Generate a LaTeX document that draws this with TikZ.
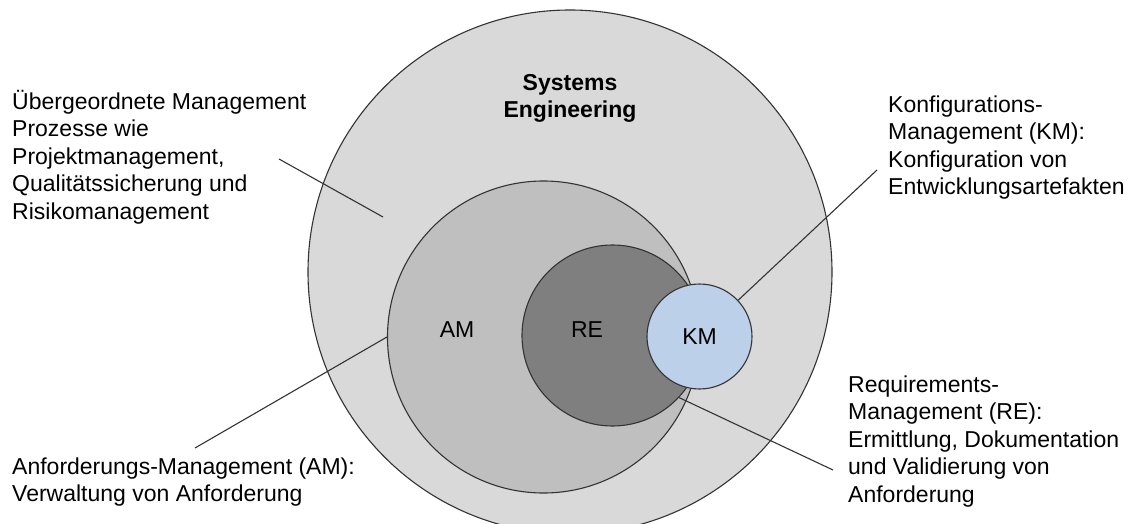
\documentclass[tikz,border=0pt]{standalone}
\usepackage{fontspec}
\setmainfont{Liberation Sans}
\definecolor{outerfill}{HTML}{D9D9D9}
\definecolor{amfill}{HTML}{BFBFBF}
\definecolor{refill}{HTML}{7F7F7F}
\definecolor{kmfill}{HTML}{BDD0E9}
\definecolor{edge}{HTML}{333333}
% fixes the height of the first line of every caption
\newcommand\lblstrut{\rule{0pt}{22pt}}

\begin{document}
\begin{tikzpicture}[x=1pt,y=-1pt,
  area/.style={circle, draw=edge, line width=1.1pt, inner sep=0pt},
  txt/.style={font=\fontsize{23}{27.5}\selectfont},
  caption/.style={txt, align=left, inner sep=0pt, anchor=north west},
  leader/.style={draw=edge, line width=1.1pt}]
\clip (0,0) rectangle (1133,524);

% nested areas
\node[area, fill=outerfill, minimum size=524pt] (se) at (570,272) {};
\node[area, fill=amfill, minimum size=312pt] (am) at (543.5,337) {};
\node[area, fill=refill, minimum size=181pt] (re) at (612.5,335.5) {};
\node[area, fill=kmfill, minimum size=105pt, txt] (km) at (699.5,336.5) {KM};

\node[txt, inner sep=0pt] (amtag) at (457,330) {AM};
\node[txt, inner sep=0pt] (retag) at (587,330) {RE};
\node[txt, inner sep=0pt, align=center, anchor=north, font=\fontsize{23}{27.5}\selectfont\bfseries]
  (setag) at (570,68) {\lblstrut Systems\\Engineering};

% captions
\node[caption] (capse) at (12,87) {\lblstrut Übergeordnete Management\\Prozesse wie\\Projektmanagement,\\Qualitätssicherung und\\Risikomanagement};
\node[caption] (capkm) at (888,90) {\lblstrut Konfigurations-\\Management (KM):\\Konfiguration von\\Entwicklungsartefakten};
\node[caption] (capam) at (12,452) {\lblstrut Anforderungs-Management (AM):\\Verwaltung von Anforderung};
\node[caption] (capre) at (848,370) {\lblstrut Requirements-\\Management (RE):\\Ermittlung, Dokumentation\\und Validierung von\\Anforderung};

% leader lines
\coordinate (seA) at (279,159);
\coordinate (seB) at (383,217);
\coordinate (kmA) at (877,170);
\coordinate (amA) at (195,448);
\coordinate (reB) at (833,470);
\draw[leader] (seA) -- (seB);
\draw[leader] (kmA) -- (km);
\draw[leader] (amA) -- (am.west);
\draw[leader] (re.-43) -- (reB);
\end{tikzpicture}
\end{document}
